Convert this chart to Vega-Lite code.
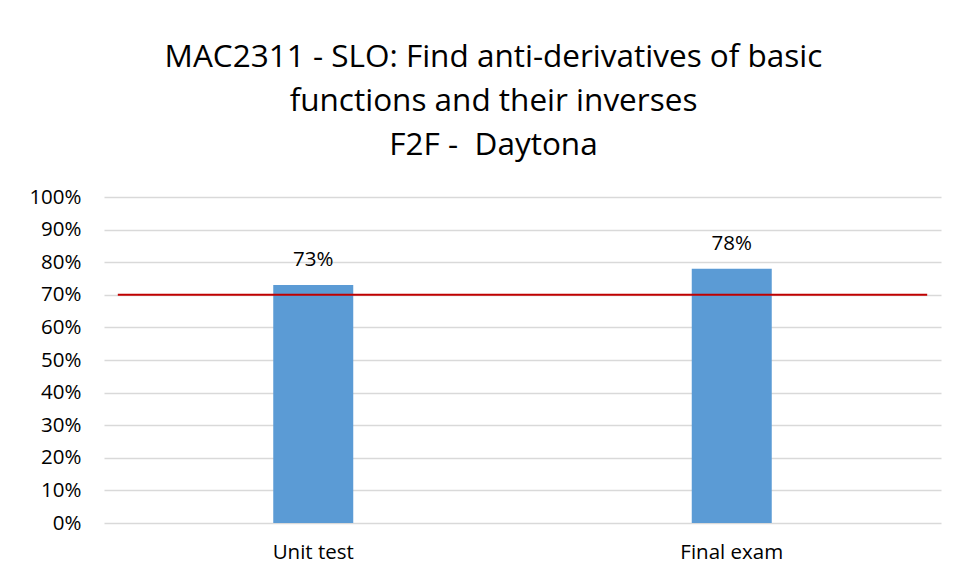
{
  "$schema": "https://vega.github.io/schema/vega-lite/v6.json",
  "width": 837,
  "height": 326,
  "padding": {"left": 28, "top": 41, "right": 20, "bottom": 10},
  "background": "white",
  "config": {
    "view": {"stroke": null},
    "font": "Open Sans",
    "axisY": {
      "labelFontSize": 20.5,
      "labelColor": "#000000",
      "labelPadding": 23,
      "labelOverlap": false,
      "ticks": false,
      "domain": false,
      "grid": true,
      "gridColor": "#d9d9d9",
      "gridWidth": 1.3,
      "title": null
    },
    "axisX": {
      "labelFontSize": 20.5,
      "labelColor": "#000000",
      "labelPadding": 19,
      "labelAngle": 0,
      "ticks": false,
      "domain": false,
      "grid": false,
      "title": null
    }
  },
  "title": {
    "text": ["MAC2311 - SLO: Find anti-derivatives of basic", "functions and their inverses", "F2F - \u00a0Daytona"],
    "fontSize": 31.5,
    "font": "Open Sans",
    "fontWeight": "normal",
    "color": "#000000",
    "lineHeight": 44,
    "anchor": "middle",
    "frame": "group",
    "dx": -29,
    "offset": 26
  },
  "datasets": {
    "bars": [
      {"category": "Unit test", "value": 0.73},
      {"category": "Final exam", "value": 0.78}
    ],
    "target": [
      {"from": "Unit test", "to": "Final exam", "goal": 0.7}
    ]
  },
  "layer": [
    {
      "data": {"name": "bars"},
      "mark": {"type": "bar", "color": "#5b9bd5", "size": 80},
      "encoding": {
        "x": {
          "field": "category",
          "type": "nominal",
          "sort": null,
          "scale": {"paddingInner": 0, "paddingOuter": 0},
          "axis": {"title": null}
        },
        "y": {
          "field": "value",
          "type": "quantitative",
          "scale": {"domain": [0, 1]},
          "axis": {"title": null, "format": ".0%", "values": [0, 0.1, 0.2, 0.3, 0.4, 0.5, 0.6, 0.7, 0.8, 0.9, 1]}
        }
      }
    },
    {
      "data": {"name": "bars"},
      "mark": {"type": "text", "baseline": "bottom", "dy": -15, "fontSize": 20.5, "color": "#000000"},
      "encoding": {
        "x": {"field": "category", "type": "nominal", "sort": null, "axis": {"title": null}},
        "y": {"field": "value", "type": "quantitative", "axis": {"title": null, "format": ".0%", "values": [0, 0.1, 0.2, 0.3, 0.4, 0.5, 0.6, 0.7, 0.8, 0.9, 1]}},
        "text": {"field": "value", "type": "quantitative", "format": ".0%"}
      }
    },
    {
      "data": {"name": "target"},
      "mark": {"type": "rule", "color": "#c00000", "strokeWidth": 2},
      "encoding": {
        "x": {"field": "from", "type": "nominal", "sort": null, "bandPosition": 0.033, "axis": {"title": null}},
        "x2": {"field": "to", "bandPosition": 0.967},
        "y": {"field": "goal", "type": "quantitative", "axis": {"title": null, "format": ".0%", "values": [0, 0.1, 0.2, 0.3, 0.4, 0.5, 0.6, 0.7, 0.8, 0.9, 1]}}
      }
    }
  ]
}
